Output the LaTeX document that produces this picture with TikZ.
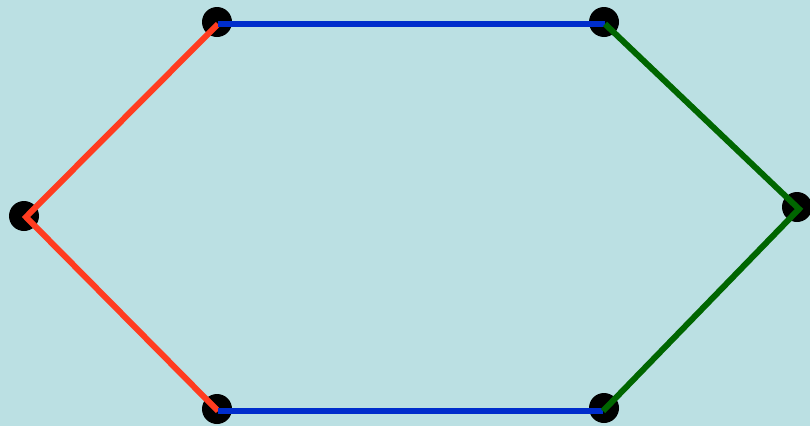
\documentclass[tikz,border=0pt]{standalone}
\definecolor{bgc}{RGB}{187,224,227}
\definecolor{redc}{RGB}{255,60,32}
\definecolor{bluec}{RGB}{0,45,204}
\definecolor{greenc}{RGB}{0,102,0}
\begin{document}
\begin{tikzpicture}[x=1pt,y=-1pt,
  dot/.style={circle,fill=black,inner sep=0pt,minimum size=30pt},
  edge/.style={line width=6pt}]
\fill[bgc] (0,0) rectangle (810,426);
\useasboundingbox (0,0) rectangle (810,426);
% dots
\node[dot] (n1) at (217,22) {};
\node[dot] (n2) at (604,22) {};
\node[dot] (n3) at (797,207) {};
\node[dot] (n4) at (604,408) {};
\node[dot] (n5) at (217,409) {};
\node[dot] (n6) at (24,216) {};
% line vertices
\coordinate (a) at (218,24);
\coordinate (b) at (605,24);
\coordinate (c) at (799,209);
\coordinate (d) at (603,411);
\coordinate (e) at (218,411);
\coordinate (f) at (26,217);
\draw[edge,redc] (a) -- (f) -- (e);
\draw[edge,bluec] (a) -- (b);
\draw[edge,bluec] (e) -- (d);
\draw[edge,greenc] (b) -- (c) -- (d);
\end{tikzpicture}
\end{document}
